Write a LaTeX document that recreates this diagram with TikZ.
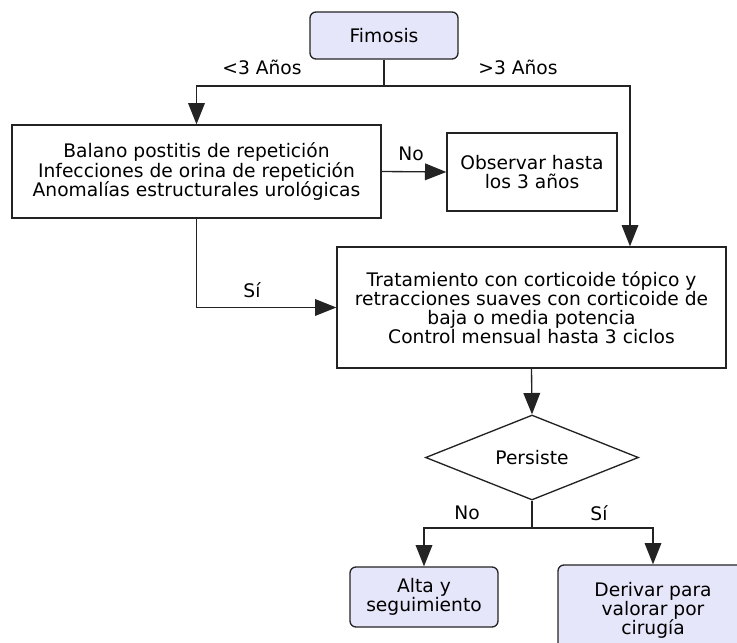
\documentclass[tikz,border=0pt]{standalone}
\usepackage{fontspec}
\setmainfont{DejaVu Sans}
\usetikzlibrary{shapes.geometric,arrows.meta}
\tikzset{every picture/.style={line width=1pt}}
\definecolor{boxfill}{RGB}{230,230,250}
\definecolor{linegray}{RGB}{35,35,35}
\tikzset{
  txt/.style={font=\fontsize{14}{14.3}\selectfont, align=center, inner sep=0pt, text=black},
  endbox/.style={txt, draw=linegray, fill=boxfill, rounded corners=4.5pt},
  procbox/.style={txt, draw=linegray, fill=white},
  decision/.style={txt, draw=linegray, diamond, fill=white, aspect=2.5},
  arr/.style={draw=linegray, -{Triangle[length=16pt,width=12.5pt]}},
  conn/.style={draw=linegray},
}

\begin{document}
\begin{tikzpicture}[x=0.75pt,y=0.75pt,yscale=-1,xscale=1]
\useasboundingbox (0,0) rectangle (737,642);

%Rounded Rect
\node [endbox, minimum width=111pt, minimum height=35.25pt] (fimosis) at (384,35.5) {Fimosis};
%Shape: Rectangle
\node [procbox, minimum width=276.75pt, minimum height=69.75pt] (balano) at (196.5,171.5) {Balano postitis de repetición\\Infecciones de orina de repetición\\Anomalías estructurales urológicas};
%Shape: Rectangle
\node [procbox, minimum width=127.5pt, minimum height=58.5pt] (observar) at (532,172) {Observar hasta\\los 3 años};
%Shape: Rectangle
\node [procbox, minimum width=291.75pt, minimum height=90.75pt] (tratamiento) at (531.5,307.5) {Tratamiento con corticoide tópico y\\retracciones suaves con corticoide de\\baja o media potencia\\Control mensual hasta 3 ciclos};
%Shape: Diamond
\node [decision, minimum width=159.75pt, minimum height=63.75pt] (persiste) at (532,457.5) {Persiste};
%Rounded Rect
\node [endbox, minimum width=111pt, minimum height=45pt] (alta) at (424,597) {Alta y\\seguimiento};
%Rounded Rect
\node [endbox, minimum width=142.5pt, minimum height=67.5pt] (derivar) at (653,610) {Derivar para\\valorar por\\cirugía};

%Connectors
\coordinate (split) at (384,86);
\coordinate (rtop) at (630,86);
\coordinate (fork) at (532,528);
\draw [conn] (fimosis.south) -- (split);
\draw [arr] (split) -| (balano.north);
\draw [arr] (split) -- (rtop) -- (rtop |- tratamiento.north);
\draw [arr] (balano.east) -- (observar.west);
\draw [arr] (balano.south) |- (tratamiento.west);
\draw [arr] (tratamiento.south) -- (persiste.north);
\draw [conn] (persiste.south) -- (fork);
\draw [arr] (fork) -| (alta.north);
\draw [arr] (fork) -| (derivar.north);

% Text Node
\draw (262,67) node [txt] (menor) {<3 Años};
% Text Node
\draw (518,67) node [txt] (mayor) {>3 Años};
% Text Node
\draw (411,154) node [txt] (no1) {No};
% Text Node
\draw (252,290) node [txt] (si1) {Sí};
% Text Node
\draw (467,513) node [txt] (no2) {No};
% Text Node
\draw (599,513) node [txt] (si2) {Sí};
\end{tikzpicture}
\end{document}
